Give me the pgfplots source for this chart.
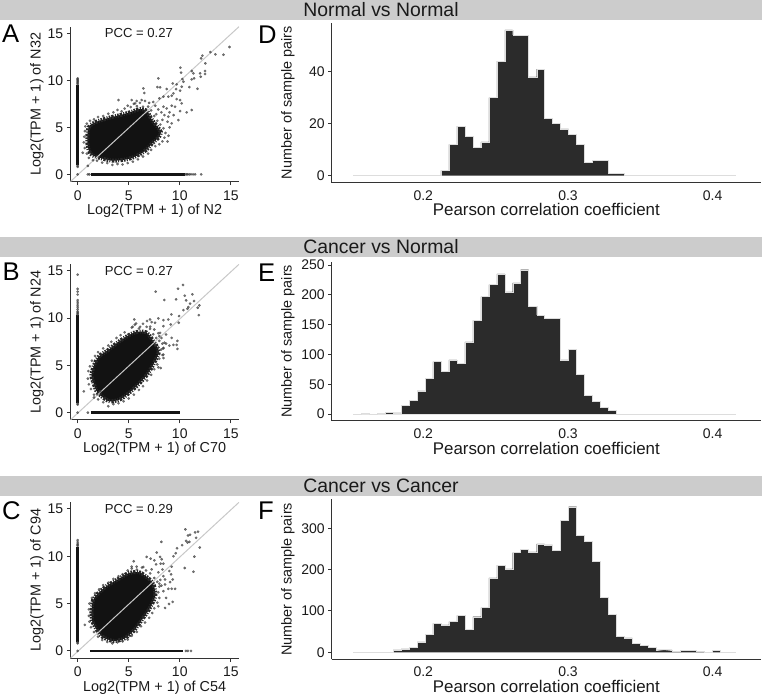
\documentclass[border=0pt]{standalone}
\usepackage{fontspec}
\setmainfont{Liberation Sans}
\usepackage{pgfplots}
\usepackage{pgfplotstable}
\pgfplotsset{compat=1.18}
\definecolor{strip}{HTML}{CCCCCC}
\definecolor{bar}{HTML}{2B2B2B}
\definecolor{axc}{HTML}{333333}
\definecolor{diag}{HTML}{C8C8C8}
\definecolor{txt}{HTML}{1A1A1A}
\definecolor{edgec}{HTML}{DDDDDD}
\definecolor{ptc}{HTML}{3A3A3A}
\newcommand{\fs}[1]{\fontsize{#1}{#1}\selectfont}
\pgfplotstableread{
x d e f
0.1516 0 0 0
0.1571 0 1 0
0.1626 0 0 0
0.1681 0 1 0
0.1736 0 3 0
0.1792 0 2 6
0.1847 0 14 8
0.1902 0 23 12
0.1957 0 39 25
0.2012 0 60 43
0.2067 0 88 70
0.2122 2 72 66
0.2177 12 91 74
0.2232 19 85 89
0.2288 15 121 55
0.2343 11 157 86
0.2398 13 197 108
0.2453 30 217 180
0.2508 44 235 211
0.2563 56 205 202
0.2618 54 220 241
0.2673 54 242 249
0.2728 38 181 243
0.2784 41 166 262
0.2839 22 160 260
0.2894 20 160 247
0.2949 18 91 319
0.3004 16 108 352
0.3059 12 66 282
0.3114 5 31 268
0.3169 6 21 220
0.3224 6 11 133
0.3280 1 6 91
0.3335 1 0 38
0.3390 0 0 35
0.3445 0 0 21
0.3500 0 0 17
0.3555 0 0 12
0.3610 0 0 6
0.3665 0 0 6
0.3720 0 0 2
0.3776 0 0 4
0.3831 0 0 5
0.3886 0 0 2
0.3941 0 0 0
0.3996 0 0 4
0.4051 0 0 0
0.4106 0 0 0
0.4161 0 0 0
}\hist
\pgfplotsset{
  base/.style={
    scale only axis, anchor=south west, clip=true,
    axis x line*=bottom, axis y line*=left,
    axis line style={color=axc,line width=1pt},
    tick style={color=axc,line width=0.9pt},
    tick align=outside, major tick length=3.5pt,
    /pgf/number format/assume math mode=true,
    tick label style={font=\fs{14},text=txt},
    xticklabel style={anchor=base,yshift=-15pt},
    every axis x label/.style={at={(axis description cs:0.5,0)},anchor=base,yshift=-32.8pt,font=\fs{14.4},text=txt},
  },
  scat/.style={base,width=168.7pt,
    xmin=-0.72,xmax=15.8,ymin=-0.78,ymax=15.7,
    xtick={0,5,10,15},ytick={0,5,10,15},
    every axis y label/.style={at={(axis description cs:0,0.5)},rotate=90,anchor=base,yshift=29.6pt,font=\fs{14.4},text=txt},
  },
  hst/.style={base,width=429.3pt,
    xmin=0.1367,xmax=0.4334,xtick={0.2,0.3,0.4},
    x tick style={draw=none},
    xticklabel style={font=\fs{14},yshift=1pt},
    xlabel={Pearson correlation coefficient},
    ylabel={Number of sample pairs},
    every axis x label/.style={at={(axis description cs:0.5,0)},anchor=base,yshift=-33.3pt,font=\fs{16.9},text=txt},
    every axis y label/.style={at={(axis description cs:0,0.5)},rotate=90,anchor=base,yshift=40pt,font=\fs{14.4},text=txt},
  },
  pts/.style={only marks,mark=*,mark size=1.3pt,mark options={draw=ptc,fill=ptc,line width=0.1pt,opacity=0.72}},
  blob/.style={smooth,tension=0.5,fill=black!93,draw=black!85,line width=4pt,dash pattern=on 1.6pt off 1pt on 2.4pt off 1.4pt on 1pt off 1.2pt},
  stripe/.style={line width=2.7pt,color=black!92},
  dline/.style={color=diag,line width=1pt},
  barsf/.style={ybar interval,draw=none,fill=bar},
  edge/.style={const plot,color=edgec,line width=0.4pt,mark=none},
}
\begin{document}
\begin{tikzpicture}[x=1pt,y=1pt]
\path[use as bounding box] (0,0) rectangle (762,698);
\fill[strip] (0,698) rectangle (762,677.5);
\fill[strip] (0,461) rectangle (762,441);
\fill[strip] (0,222) rectangle (762,201.5);
\node[anchor=base,text=txt,font=\fs{19.4}] at (381,681.3) {Normal vs Normal};
\node[anchor=base,text=txt,font=\fs{19.4}] at (381,444.7) {Cancer vs Normal};
\node[anchor=base,text=txt,font=\fs{19.4}] at (381,205.3) {Cancer vs Cancer};
\node[anchor=base west,inner sep=0pt,text=black,font=\fs{25.6}] at (2,655) {A};
\node[anchor=base west,inner sep=0pt,text=black,font=\fs{25.6}] at (2.5,417.3) {B};
\node[anchor=base west,inner sep=0pt,text=black,font=\fs{25.6}] at (2,178) {C};
\node[anchor=base west,inner sep=0pt,text=black,font=\fs{25.6}] at (258,654.7) {D};
\node[anchor=base west,inner sep=0pt,text=black,font=\fs{25.6}] at (258,416.3) {E};
\node[anchor=base west,inner sep=0pt,text=black,font=\fs{25.6}] at (258,178.7) {F};

% Panel A
\begin{axis}[scat,at={(70.3pt,516.3pt)},height=155pt,
  xlabel={Log2(TPM + 1) of N2},ylabel={Log2(TPM + 1) of N32}]
\addplot[blob] coordinates {(1.0,4.7)(1.2,5.2)(1.86,5.6)(3.17,6.05)(4.15,6.3)(5.29,6.65)(6.11,6.95)(6.8,6.75)(7.05,6.2)(7.35,5.7)(7.85,5.0)(8.15,4.5)(7.95,3.95)(7.35,3.35)(6.6,2.5)(5.65,1.9)(4.8,1.6)(3.49,1.45)(2.51,1.65)(1.86,1.85)(1.4,2.05)(1.1,2.5)(0.95,3.3)(0.95,4.18)} --cycle;
\addplot[stripe] coordinates {(0,0.95)(0,9.5)};
\addplot[stripe] coordinates {(1.3,0)(10.5,0)};
\addplot[pts] coordinates {(0,0.8)(0,0.9)(0,9.6)(0,9.7)(0,9.8)(0,9.9)(0,10.0)(0,10.1)(0,10.2)(0,0)(1.0,0)(1.15,0)(10.6,0)(10.7,0)(10.8,0)(10.95,0)(11.1,0)(11.3,0)(11.5,0)(12.1,0)};
\addplot[pts] coordinates {(0.7,4.6)(0.75,5.1)(0.9,5.4)(1.2,5.7)(1.6,5.85)(2.0,6.1)(2.5,6.2)(3.0,6.45)(3.5,6.6)(3.9,6.85)(4.3,6.7)(4.6,7.0)(4.9,7.3)(5.2,7.15)(5.5,7.5)(5.8,7.25)(6.1,7.6)(6.4,7.2)(4.0,7.9)(6.9,7.2)(7.2,6.8)(7.5,6.2)(7.8,5.7)(8.1,5.3)(8.4,4.9)(8.6,4.4)(8.5,3.9)(8.3,3.5)(8.0,3.2)(7.6,3.0)(7.2,2.6)(6.9,2.2)(6.4,1.9)(5.9,1.6)(5.4,1.35)(4.9,1.2)(4.4,1.05)(3.9,1.1)(3.4,1.0)(2.9,1.2)(2.4,1.25)(1.9,1.45)(1.5,1.5)(1.1,1.75)(0.9,2.2)(0.7,2.8)(0.6,3.4)(0.65,4.0)(0.5,2.3)(9.0,5.0)(8.9,4.1)(8.8,3.5)(1.0,0.9)};
\addplot[pts] coordinates {(14.87,13.54)(14.28,12.72)(13.49,12.76)(13.0,13.0)(12.22,12.62)(12.09,12.33)(12.51,11.8)(10.06,11.34)(10.13,10.81)(11.17,10.99)(11.34,10.74)(11.99,10.74)(12.48,10.99)(12.48,10.67)(12.05,10.38)(11.4,10.21)(11.17,10.1)(7.9,10.2)(10.26,10.13)(9.31,9.67)(9.7,9.57)(10.36,9.85)(10.94,9.28)(11.73,9.1)(10.19,9.32)(6.43,9.14)(6.53,8.65)(7.81,9.28)(8.07,9.25)(8.72,9.07)(9.64,9.07)(10.03,8.9)(9.38,8.61)(9.21,8.36)(8.88,8.26)(8.4,8.26)(8.0,8.08)(6.27,7.9)(6.6,7.8)(5.78,7.8)(5.29,7.9)(5.62,7.55)(9.7,8.0)(10.19,7.55)(10.03,7.9)(8.4,7.19)(8.72,7.01)(9.21,7.3)(9.54,7.19)(10.03,6.73)(10.68,6.59)(11.17,6.84)(8.88,6.13)(9.87,5.77)(9.21,5.42)(7.6,7.3)(7.9,6.9)(8.2,6.6)(8.5,6.3)(7.7,6.4)(8.3,5.8)(9.0,6.6)(9.4,6.3)(8.8,5.6)(7.4,7.7)(7.0,7.6)};
\addplot[dline] coordinates {(-0.72,-0.78)(15.8,15.7)};
\node[anchor=base,font=\fs{13.1},text=txt] at (axis cs:6.0,14.5) {PCC = 0.27};
\end{axis}

% Panel B
\begin{axis}[scat,at={(70.3pt,278pt)},height=155.7pt,
  xlabel={Log2(TPM + 1) of C70},ylabel={Log2(TPM + 1) of N24}]
\addplot[blob] coordinates {(1.5,3.3)(1.35,4.0)(1.65,5.15)(2.12,6.0)(2.9,6.55)(3.7,7.25)(4.63,7.95)(5.62,8.5)(6.7,8.5)(7.45,7.5)(7.95,6.45)(7.48,5.25)(6.82,4.05)(6.0,3.05)(5.05,2.1)(4.14,1.4)(3.16,1.2)(2.42,1.65)(1.8,2.35)} --cycle;
\addplot[stripe] coordinates {(0,1.0)(0,10.3)};
\addplot[stripe] coordinates {(1.3,0)(10,0)};
\addplot[pts] coordinates {(0,0.85)(0,0.95)(0,10.4)(0,10.5)(0,10.6)(0,10.7)(0,10.9)(0,11.1)(0,11.3)(0,11.5)(0,11.7)(0,11.9)(0,12.5)(0,12.8)(0,13.1)(0,14.6)(0,0)(1.0,0)};
\addplot[pts] coordinates {(1.1,3.0)(1.0,3.6)(1.05,4.4)(1.2,4.9)(1.4,5.5)(1.7,6.0)(2.0,6.4)(2.5,6.8)(3.0,7.1)(3.3,7.5)(3.8,7.9)(4.2,8.2)(4.6,8.5)(5.0,8.3)(5.3,9.0)(5.6,9.3)(6.0,8.9)(6.4,9.4)(6.8,9.7)(7.1,9.1)(7.5,8.8)(7.9,8.4)(8.2,7.9)(8.5,7.4)(8.4,6.8)(8.3,6.1)(8.0,5.7)(7.8,5.1)(7.5,4.6)(7.2,4.0)(6.8,3.4)(6.4,2.8)(6.0,2.4)(5.5,1.9)(5.0,1.5)(4.5,1.2)(4.0,1.0)(3.5,0.9)(3.0,0.68)(2.5,1.1)(2.0,1.4)(1.6,1.9)(1.3,2.5)(0.6,2.25)(1.6,1.6)(1.9,1.95)(2.2,2.25)};
\addplot[pts] coordinates {(7.64,12.8)(8.49,11.92)(9.83,13.12)(10.32,13.51)(9.64,11.99)(10.49,12.38)(11.24,12.52)(10.62,11.88)(11.4,11.81)(11.01,11.53)(10.85,11.17)(10.75,11.0)(10.36,10.85)(11.92,11.35)(11.76,11.1)(11.86,10.32)(9.93,10.22)(9.18,10.39)(8.88,9.86)(9.11,9.33)(9.9,9.51)(5.55,9.86)(5.72,9.43)(7.09,9.86)(7.25,9.58)(7.9,9.97)(8.4,9.79)(7.58,9.51)(6.11,9.08)(5.39,9.08)(6.76,9.08)(7.09,8.87)(8.4,9.15)(8.07,8.44)(8.66,8.27)(9.21,7.91)(9.77,7.59)(9.38,7.17)(9.7,7.17)(9.77,6.74)(8.66,7.31)(8.98,7.1)(8.4,6.85)(8.4,6.14)(8.4,5.78)(7.9,4.79)(8.13,4.72)(7.7,7.9)(8.0,7.6)(8.3,7.3)(7.6,7.2)(7.9,6.9)(8.2,6.7)(8.0,8.1)(7.4,8.3)};
\addplot[dline] coordinates {(-0.72,-0.78)(15.8,15.7)};
\node[anchor=base,font=\fs{13.1},text=txt] at (axis cs:6.0,14.47) {PCC = 0.27};
\end{axis}

% Panel C
\begin{axis}[scat,at={(70.3pt,39.7pt)},height=156pt,
  xlabel={Log2(TPM + 1) of C54},ylabel={Log2(TPM + 1) of C94}]
\addplot[blob] coordinates {(1.35,4.01)(1.5,5.35)(2.12,6.2)(2.9,6.9)(4.0,7.6)(4.96,8.2)(6.05,8.3)(7.0,7.6)(7.45,6.95)(7.6,5.78)(7.0,4.4)(6.33,3.35)(5.55,2.2)(4.6,1.32)(3.49,1.05)(2.42,1.5)(1.8,2.35)(1.4,3.2)} --cycle;
\addplot[stripe] coordinates {(0,0.95)(0,11)};
\addplot[stripe] coordinates {(1.2,0)(10.3,0)};
\addplot[pts] coordinates {(0,0.8)(0,0.9)(0,11.1)(0,11.2)(0,11.3)(0,11.5)(0,11.7)(0,0)(10.6,0)(10.8,0)(11.1,0)};
\addplot[pts] coordinates {(1.1,3.7)(1.1,4.4)(1.15,5.0)(1.4,5.6)(1.7,6.1)(2.1,6.5)(2.5,6.95)(3.0,7.2)(3.5,7.6)(4.0,7.9)(4.4,8.1)(4.9,8.5)(5.3,8.7)(5.8,8.6)(6.3,8.8)(6.7,8.5)(7.1,8.2)(7.5,7.7)(7.8,7.3)(8.0,6.8)(7.9,6.2)(8.0,5.6)(7.8,5.1)(7.5,4.5)(7.3,4.0)(7.0,3.5)(6.6,3.0)(6.2,2.6)(5.8,2.0)(5.3,1.6)(4.9,1.2)(4.4,1.0)(3.9,0.9)(3.4,0.8)(2.9,0.95)(2.4,1.15)(2.0,1.5)(1.6,2.0)(1.3,2.5)(1.15,3.1)(0.7,2.75)};
\addplot[pts] coordinates {(10.55,12.84)(11.5,12.52)(11.79,12.59)(11.01,12.27)(10.81,12.2)(11.6,11.95)(8.2,11.52)(10.62,11.63)(10.75,11.45)(10.94,11.52)(10.23,11.17)(9.73,10.85)(11.96,10.92)(9.6,10.32)(9.38,10.0)(11.43,9.96)(7.74,10.39)(6.76,9.93)(7.15,9.75)(7.51,9.57)(8.07,9.93)(8.23,9.68)(8.13,9.22)(8.4,9.22)(5.49,9.47)(7.68,9.15)(10.49,8.76)(11.34,8.37)(9.21,8.9)(8.98,8.44)(9.15,8.09)(6.43,8.87)(7.25,8.62)(5.78,8.9)(5.29,8.9)(8.56,7.55)(9.31,7.55)(9.05,7.27)(8.56,7.02)(9.21,6.56)(9.54,6.56)(8.88,6.56)(8.4,6.31)(8.66,5.6)(9.31,5.18)(8.95,4.96)(8.56,4.54)(7.9,4.72)(8.3,8.6)(7.9,8.3)(8.4,7.9)(8.1,7.5)(8.0,7.1)(8.2,6.9)};
\addplot[dline] coordinates {(-0.72,-0.78)(15.8,15.7)};
\node[anchor=base,font=\fs{13.1},text=txt] at (axis cs:6.0,14.47) {PCC = 0.29};
\end{axis}

% Panel D
\begin{axis}[hst,at={(331.7pt,515.3pt)},height=160pt,ymin=-2.7,ymax=58.8,ytick={0,20,40}]
\addplot[barsf] table[x=x,y=d] {\hist};
\addplot[edge] table[x=x,y=d] {\hist};
\end{axis}

% Panel E
\begin{axis}[hst,at={(331.7pt,277pt)},height=159.3pt,ymin=-11.7,ymax=255.5,ytick={0,50,100,150,200,250}]
\addplot[barsf] table[x=x,y=e] {\hist};
\addplot[edge] table[x=x,y=e] {\hist};
\end{axis}

% Panel F
\begin{axis}[hst,at={(331.7pt,38.7pt)},height=160pt,ymin=-17,ymax=370,ytick={0,100,200,300}]
\addplot[barsf] table[x=x,y=f] {\hist};
\addplot[edge] table[x=x,y=f] {\hist};
\end{axis}
\end{tikzpicture}
\end{document}
